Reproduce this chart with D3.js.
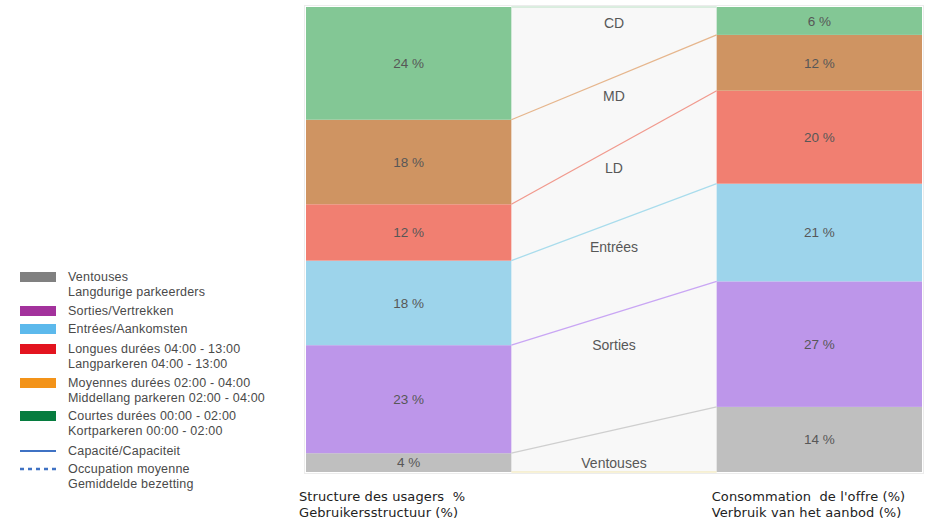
<!DOCTYPE html>
<html>
<head>
<meta charset="utf-8">
<script src="https://cdn.jsdelivr.net/npm/d3@7"></script>
<style>
  html, body { margin: 0; padding: 0; background: #ffffff; }
  svg { display: block; }
</style>
</head>
<body>
<svg id="chart" width="926" height="524"></svg>
<script>
// Segments, stacked from the bottom of each column upwards
const categories = ["Ventouses", "Sorties", "Entrées", "LD", "MD", "CD"];
const usagers = [4, 23, 18, 12, 18, 24];   // Structure des usagers (%)
const offre   = [14, 27, 21, 20, 12, 6];   // Consommation de l'offre (%)

const columnKeys = ["usagers", "offre"];
const columnTitles = [
  ["Structure des usagers  %", "Gebruikersstructuur (%)"],
  ["Consommation  de l'offre (%)", "Verbruik van het aanbod (%)"]
];

const legendLabels = [
  ["Ventouses", "Langdurige parkeerders"],
  ["Sorties/Vertrekken"],
  ["Entrées/Aankomsten"],
  ["Longues durées 04:00 - 13:00", "Langparkeren 04:00 - 13:00"],
  ["Moyennes durées 02:00 - 04:00", "Middellang parkeren 02:00 - 04:00"],
  ["Courtes durées 00:00 - 02:00", "Kortparkeren 00:00 - 02:00"],
  ["Capacité/Capaciteit"],
  ["Occupation moyenne", "Gemiddelde bezetting"]
];
const legendKinds = ["rect", "rect", "rect", "rect", "rect", "rect", "line", "dash"];

// Styling
const fillColor = {
  "CD": "#83c795", "MD": "#cf9462", "LD": "#f17f71",
  "Entrées": "#9dd4eb", "Sorties": "#bd96ea", "Ventouses": "#bfbfbf"
};
const linkColor = {
  "CD": "#cfe9d6", "MD": "#e6b68d", "LD": "#f19a8e",
  "Entrées": "#a9dcec", "Sorties": "#c9a6f4", "Ventouses": "#cfcfcf"
};
const legendColors = ["#808080", "#a3329c", "#5cb9ec", "#e3141f", "#f39319", "#067c3f", "#3f72c4", "#3f72c4"];

const svg = d3.select("#chart");
const plotTop = 7, plotBottom = 472, plotLeft = 306, plotRight = 922;

// Normalised stack: each column fills the full height
const table = columnKeys.map((k, i) => {
  const row = { col: k };
  const vals = i === 0 ? usagers : offre;
  categories.forEach((c, j) => row[c] = vals[j]);
  return row;
});
const series = d3.stack().keys(categories).offset(d3.stackOffsetExpand)(table);

const x = d3.scaleBand().domain(columnKeys).range([plotLeft, plotRight]).paddingInner(0.5);
const y = d3.scaleLinear().domain([0, 1]).range([plotBottom, plotTop]);
const bw = x.bandwidth();
const xL = x("usagers") + bw, xR = x("offre");

// Frame and the light middle panel
svg.append("rect")
  .attr("x", plotLeft - 1.5).attr("y", plotTop - 1.5)
  .attr("width", plotRight - plotLeft + 3).attr("height", plotBottom - plotTop + 3)
  .attr("fill", "#ffffff").attr("stroke", "#ececec").attr("stroke-width", 1);
svg.append("rect")
  .attr("x", xL).attr("y", plotTop).attr("width", xR - xL).attr("height", plotBottom - plotTop)
  .attr("fill", "#f8f8f8");

// Stacked columns
const groups = svg.append("g").selectAll("g").data(series).join("g")
  .attr("fill", d => fillColor[d.key]);
groups.selectAll("rect").data(d => d.map(p => ({ key: d.key, p }))).join("rect")
  .attr("x", d => x(d.p.data.col))
  .attr("y", d => y(d.p[1]))
  .attr("width", bw)
  .attr("height", d => y(d.p[0]) - y(d.p[1]));

// Value labels
groups.selectAll("text").data(d => d.map(p => ({ key: d.key, p }))).join("text")
  .attr("x", d => x(d.p.data.col) + bw / 2)
  .attr("y", d => (y(d.p[0]) + y(d.p[1])) / 2)
  .attr("dy", "0.35em")
  .attr("text-anchor", "middle")
  .attr("font-family", "Liberation Sans, Arial, sans-serif")
  .attr("font-size", 13.5)
  .attr("fill", "#575757")
  .text(d => d.p.data[d.key] + " %");

// Link lines joining the top of each segment across the middle panel
svg.append("g").selectAll("line").data(series).join("line")
  .attr("x1", xL).attr("y1", d => y(d[0][1]))
  .attr("x2", xR).attr("y2", d => y(d[1][1]))
  .attr("stroke", d => linkColor[d.key])
  .attr("stroke-width", 1.3);
svg.append("line")
  .attr("x1", xL).attr("y1", y(0)).attr("x2", xR).attr("y2", y(0))
  .attr("stroke", "#f2e6b0").attr("stroke-width", 1.2);

// Category names in the middle panel
svg.append("g").selectAll("text").data(series).join("text")
  .attr("x", (xL + xR) / 2)
  .attr("y", (d, i) => {
    const upper = (y(d[0][1]) + y(d[1][1])) / 2;
    const lower = (y(d[0][0]) + y(d[1][0])) / 2;
    return i === 0 ? lower - 9 : upper + 0.27 * (lower - upper) - (i === 5 ? 3 : 0);
  })
  .attr("dy", "0.35em")
  .attr("text-anchor", "middle")
  .attr("font-family", "Liberation Sans, Arial, sans-serif")
  .attr("font-size", 14)
  .attr("fill", "#575757")
  .text(d => d.key);

// Column titles under each column
const titles = svg.append("g").selectAll("text").data(columnKeys).join("text")
  .attr("x", (d, i) => x(d) + (i === 0 ? -7 : -5))
  .attr("y", 501)
  .attr("font-family", "DejaVu Sans, sans-serif")
  .attr("font-size", 13)
  .attr("letter-spacing", 0.1)
  .attr("fill", "#222222")
  .style("white-space", "pre");
titles.selectAll("tspan").data((d, i) => columnTitles[i]).join("tspan")
  .attr("x", function () { return d3.select(this.parentNode).attr("x"); })
  .attr("dy", (d, i) => i === 0 ? 0 : 16)
  .text(d => d);

// Legend
const lineY = [277, 311, 329, 349, 383, 416, 451, 469];
const legend = svg.append("g").selectAll("g").data(legendLabels).join("g")
  .attr("transform", (d, i) => `translate(20, ${lineY[i]})`);
legend.each(function (d, i) {
  const g = d3.select(this);
  const kind = legendKinds[i];
  if (kind === "rect") {
    g.append("rect").attr("x", 0).attr("y", -5).attr("width", 36).attr("height", 10)
      .attr("fill", legendColors[i]);
  } else {
    g.append("line").attr("x1", 0).attr("x2", 36).attr("y1", 0).attr("y2", 0)
      .attr("stroke", legendColors[i])
      .attr("stroke-width", kind === "dash" ? 2.5 : 2)
      .attr("stroke-dasharray", kind === "dash" ? "4,4" : null);
  }
  const t = g.append("text").attr("x", 48).attr("y", 0)
    .attr("font-family", "Liberation Sans, Arial, sans-serif")
    .attr("font-size", 12.5).attr("letter-spacing", 0.2).attr("fill", "#4a4a4a");
  t.selectAll("tspan").data(d).join("tspan")
    .attr("x", 48).attr("dy", (s, j) => j === 0 ? "0.35em" : 15)
    .text(s => s);
});
</script>
</body>
</html>
